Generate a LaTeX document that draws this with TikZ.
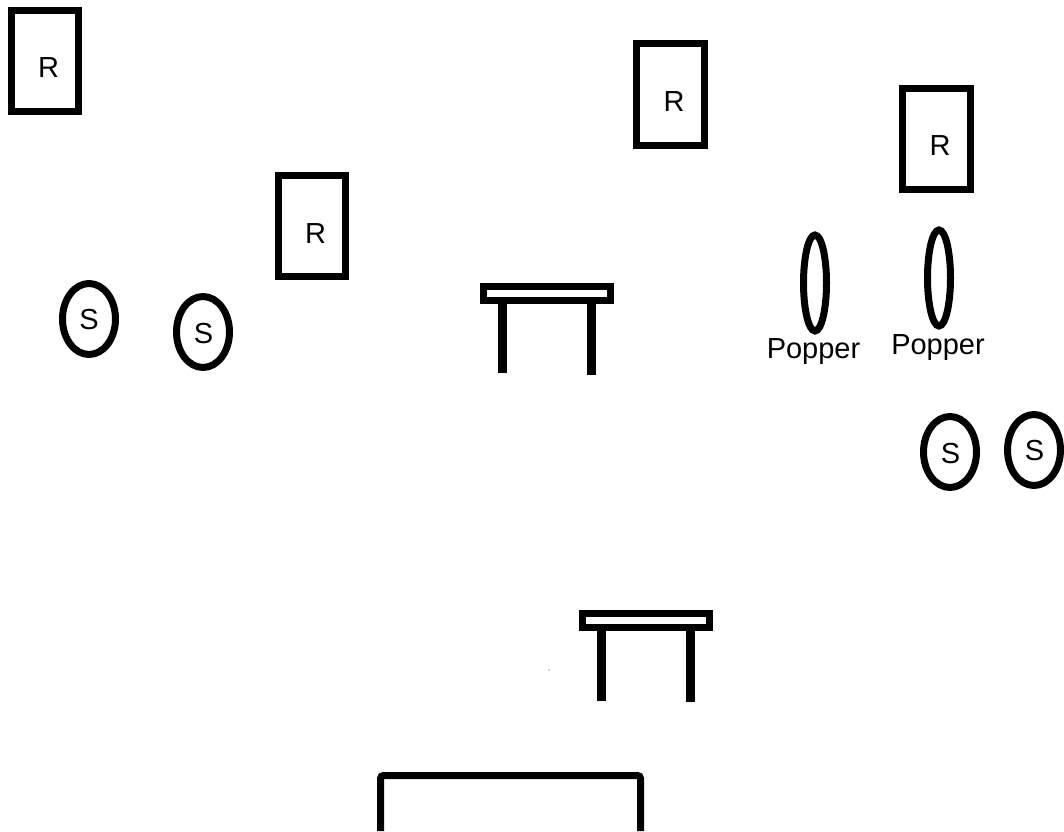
\documentclass[tikz,border=0pt]{standalone}
\usepackage{fontspec}
\setmainfont{Liberation Sans}
\usepackage{tikz}
\usetikzlibrary{shapes.geometric}
\tikzset{
  mark line/.style={draw=black,line width=0.14cm},
  robot/.style={mark line,rectangle,minimum width=1.36cm,minimum height=2.04cm,inner sep=0pt},
  scorer/.style={mark line,ellipse,minimum width=1.06cm,minimum height=1.42cm,inner sep=0pt},
  popper/.style={mark line,ellipse,minimum width=0.46cm,minimum height=1.92cm,inner sep=0pt},
  tag/.style={inner sep=0pt,font=\fontsize{16.5}{18}\selectfont},
}
\begin{document}
\begin{tikzpicture}[x=0.02cm,y=-0.02cm]
\useasboundingbox (0,0) rectangle (1064,831);
\foreach \i/\x/\y in {1/45/61,2/670.5/94.5,3/936.5/139,4/312/226}{
  \node[robot] (r\i) at (\x,\y) {};
}
\node[tag] (rt1) at (48.5,68) {R};
\node[tag] (rt2) at (674,102) {R};
\node[tag] (rt3) at (940,146) {R};
\node[tag] (rt4) at (315.5,234) {R};
\foreach \i/\x/\y in {1/89/319,2/203/332,3/950/452,4/1034/450}{
  \node[scorer] (s\i) at (\x,\y) {};
}
\node[tag] (st1) at (89,320) {S};
\node[tag] (st2) at (203.5,334) {S};
\node[tag] (st3) at (950.5,454) {S};
\node[tag] (st4) at (1034.5,451) {S};
\foreach \i/\x/\y in {1/815/283,2/939/278}{
  \node[popper] (p\i) at (\x,\y) {};
}
\node[tag] (pt1) at (813.5,352) {Popper};
\node[tag] (pt2) at (938,348) {Popper};
% tables
\foreach \i/\x/\y/\l/\m in {1/480/283/373/375,2/579/610/701/702}{
  \draw[mark line] (\x+3.5,\y+3.5) rectangle (\x+130,\y+17);
  \draw[line width=0.18cm] (\x+22.5,\y+20) -- (\x+22.5,\l);
  \draw[line width=0.18cm] (\x+111.5,\y+20) -- (\x+111.5,\m);
}
\draw[mark line,rounded corners=0.06cm] (380.5,831) -- (380.5,775.5) -- (640.5,775.5) -- (640.5,831);
\fill[black!70] (549,670) circle (0.6);
\end{tikzpicture}
\end{document}
